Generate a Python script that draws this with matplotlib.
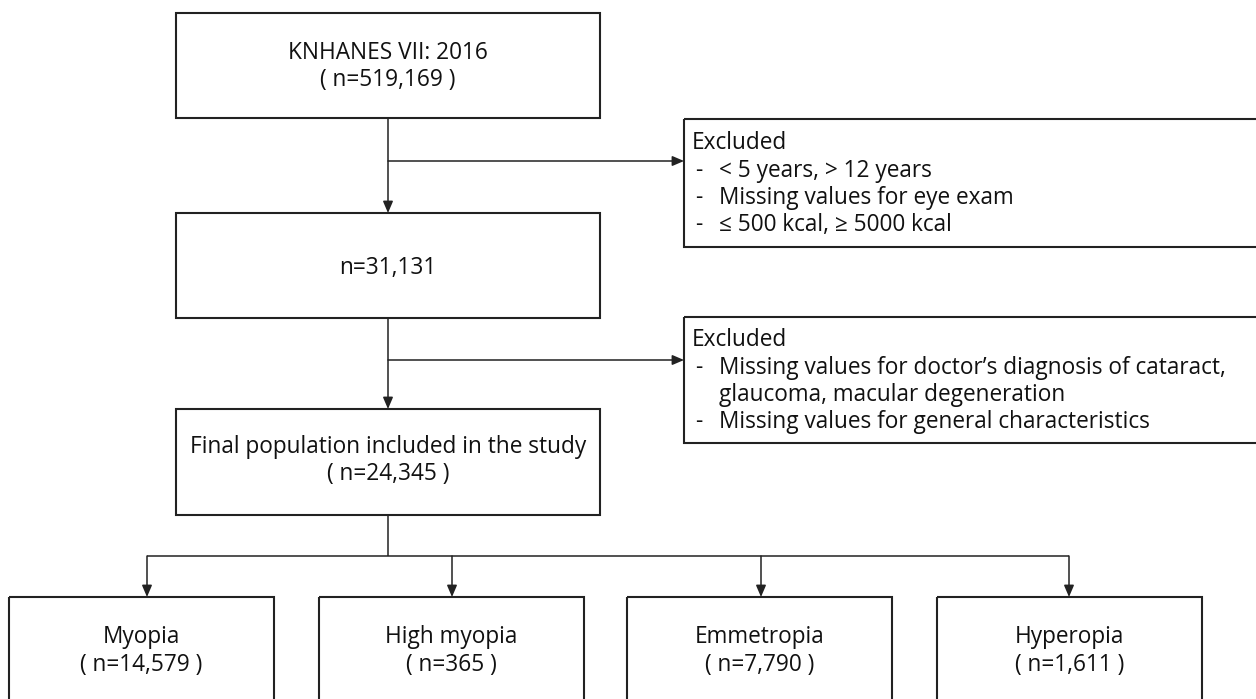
import matplotlib
matplotlib.use("Agg")
import matplotlib.pyplot as plt
from matplotlib.patches import Rectangle

plt.rcParams['font.family'] = ['Open Sans', 'DejaVu Sans']

# ---- data ----
top_title = "KNHANES VII: 2016"
top_n = "519,169"
mid_n = "31,131"
final_title = "Final population included in the study"
final_n = "24,345"
excl1_items = ["< 5 years, > 12 years", "Missing values for eye exam", "\u2264 500 kcal, \u2265 5000 kcal"]
excl2_items = ["Missing values for doctor\u2019s diagnosis of cataract,\nglaucoma, macular degeneration",
               "Missing values for general characteristics"]
groups = ["Myopia", "High myopia", "Emmetropia", "Hyperopia"]
group_n = ["14,579", "365", "7,790", "1,611"]

W, H = 1256, 699
fig = plt.figure(figsize=(W / 100, H / 100), dpi=100)
ax = fig.add_axes([0, 0, 1, 1])
ax.set_xlim(0, W)
ax.set_ylim(H, 0)
ax.axis('off')

EC = '#222222'
FS = 16.3
LS = 27

def box(x0, y0, x1, y1):
    ax.add_patch(Rectangle((x0, y0), x1 - x0, y1 - y0, fill=False, ec=EC, lw=1.5))

def line(xs, ys):
    ax.plot(xs, ys, color=EC, lw=1.1, solid_capstyle='butt')

def arrow(x0, y0, x1, y1):
    ax.annotate('', xy=(x1, y1), xytext=(x0, y0),
                arrowprops=dict(arrowstyle='-|>,head_length=0.7,head_width=0.3', color=EC, lw=1.1,
                                shrinkA=0, shrinkB=0))

def ctext(x, y, s):
    ax.text(x, y, s, ha='center', va='center', fontsize=FS, color='#111111')

# main column
cx = 388
box(176, 13, 600, 118)
ctext(cx + 0, 53, top_title)
ctext(cx + 0, 80, "( n=" + top_n + " )")

box(176, 213, 600, 318)
ctext(cx, 268, "n=" + mid_n)

box(176, 409, 600, 515)
ctext(cx, 447, final_title)
ctext(cx, 474, "( n=" + final_n + " )")

# vertical arrows main column
arrow(cx, 118, cx, 213)
arrow(cx, 318, cx, 409)

# exclusion arrows and boxes
arrow(cx, 161, 684, 161)
arrow(cx, 360, 684, 360)

box(684, 119, 1264, 247)
ax.text(692, 143, "Excluded", ha='left', va='center', fontsize=FS, color='#111111')
yy = 171
for it in excl1_items:
    ax.text(695, yy, "-", ha='left', va='center', fontsize=FS, color='#111111')
    ax.text(719, yy, it, ha='left', va='center', fontsize=FS, color='#111111')
    yy += LS

box(684, 317, 1264, 443)
ax.text(692, 340, "Excluded", ha='left', va='center', fontsize=FS, color='#111111')
yy = 368
for it in excl2_items:
    ax.text(695, yy, "-", ha='left', va='center', fontsize=FS, color='#111111')
    for k, ln in enumerate(it.split("\n")):
        ax.text(719, yy, ln, ha='left', va='center', fontsize=FS, color='#111111')
        yy += LS

# bottom branch
box_lefts = [9, 319, 627, 937]
arrow_x = [147, 452, 761, 1069]
bw = 265
line([cx, cx], [515, 556])
line([arrow_x[0], arrow_x[-1]], [556, 556])
for i, (g, n) in enumerate(zip(groups, group_n)):
    arrow(arrow_x[i], 556, arrow_x[i], 597)
    box(box_lefts[i], 597, box_lefts[i] + bw, 720)
    bcx = box_lefts[i] + bw / 2
    ctext(bcx, 637, g)
    ctext(bcx, 665, "( n=" + n + " )")

fig.savefig("out.png", dpi=100, facecolor='white')
